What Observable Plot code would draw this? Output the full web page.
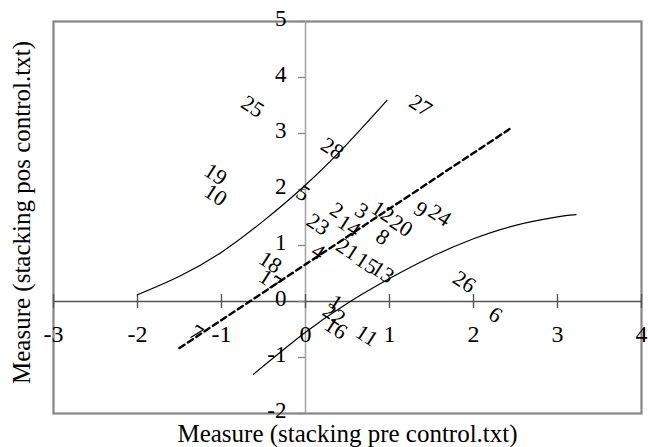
<!DOCTYPE html>
<html>
<head>
<meta charset="utf-8">
<script src="https://cdn.jsdelivr.net/npm/d3@7"></script>
<script src="https://cdn.jsdelivr.net/npm/@observablehq/plot@0.6"></script>
<style>
  html, body { margin: 0; padding: 0; background: #fff; }
  #chart svg { display: block; }
</style>
</head>
<body>
<div id="chart"></div>
<script>
// Axis ticks
const xTicks = [-3, -2, -1, 0, 1, 2, 3, 4];
const yTicks = [-2, -1, 0, 1, 2, 3, 4, 5];

// Item labels with their measures
const labels = ["25", "27", "28", "19", "10", "5", "2", "3", "12", "20", "9", "24", "23", "14",
                "8", "4", "21", "15", "13", "18", "17", "26", "6", "1", "22", "16", "11", "7"];
const preMeasure = [-0.63, 1.37, 0.32, -1.07, -1.07, -0.03, 0.37, 0.67, 0.92, 1.14, 1.37, 1.60, 0.15, 0.52,
                    0.92, 0.15, 0.50, 0.73, 0.92, -0.42, -0.42, 1.89, 2.26, 0.36, 0.34, 0.36, 0.73, -1.30];
const posMeasure = [3.48, 3.50, 2.73, 2.27, 1.90, 1.93, 1.63, 1.62, 1.60, 1.35, 1.64, 1.54, 1.38, 1.35,
                    1.15, 0.89, 0.93, 0.68, 0.52, 0.70, 0.38, 0.35, -0.24, -0.02, -0.23, -0.48, -0.61, -0.56];

// Upper control curve
const upperX = [-2.0, -1.5, -1.0, -0.5, 0.0, 0.5, 0.97];
const upperY = [0.12, 0.45, 0.88, 1.44, 2.08, 2.82, 3.59];
// Lower control curve
const lowerX = [-0.62, 0.0, 0.5, 1.0, 1.5, 2.0, 2.5, 3.0, 3.22];
const lowerY = [-1.30, -0.55, -0.03, 0.41, 0.80, 1.12, 1.36, 1.51, 1.55];
// Dashed trend line
const trendX = [-1.5, 2.43];
const trendY = [-0.83, 3.08];

const xTitle = "Measure (stacking pre control.txt)";
const yTitle = "Measure (stacking pos control.txt)";

const points = labels.map((t, i) => ({t, x: preMeasure[i], y: posMeasure[i]}));
const upper = upperX.map((x, i) => ({x, y: upperY[i]}));
const lower = lowerX.map((x, i) => ({x, y: lowerY[i]}));
const trend = trendX.map((x, i) => ({x, y: trendY[i]}));

const chart = Plot.plot({
  width: 648,
  height: 447,
  marginLeft: 53,
  marginRight: 7,
  marginTop: 21,
  marginBottom: 34,
  style: {fontFamily: "Liberation Serif", background: "#fff", color: "#000", overflow: "visible"},
  x: {domain: [-3, 4], axis: null},
  y: {domain: [-2, 5], axis: null},
  marks: [
    Plot.frame({stroke: "#858585", strokeWidth: 2.2}),
    Plot.ruleX([0], {stroke: "#a6a6a6", strokeWidth: 1.6}),
    Plot.ruleY([0], {stroke: "#555", strokeWidth: 1.6}),
    Plot.ruleX(xTicks, {x: d => d, y1: 0, y2: 0, insetTop: -7, insetBottom: -7, stroke: "#555", strokeWidth: 1.4}),
    Plot.ruleY(yTicks, {y: d => d, x1: 0, x2: 0, insetLeft: -7, insetRight: 0, stroke: "#888", strokeWidth: 1.4}),
    Plot.text(xTicks, {x: d => d, y: 0, dy: 33, text: d => String(d), fontSize: 24}),
    Plot.text(yTicks, {x: 0, y: d => d, dx: -19, dy: -3, textAnchor: "end", text: d => String(d), fontSize: 23}),
    Plot.line(upper, {x: "x", y: "y", curve: "natural", stroke: "#000", strokeWidth: 1.2}),
    Plot.line(lower, {x: "x", y: "y", curve: "natural", stroke: "#000", strokeWidth: 1.2}),
    Plot.line(trend, {x: "x", y: "y", stroke: "#000", strokeWidth: 2.4, strokeDasharray: "6,4"}),
    Plot.text(points, {x: "x", y: "y", text: "t", rotate: 33, fontSize: 22}),
    Plot.text([xTitle], {frameAnchor: "bottom", lineAnchor: "middle", textAnchor: "middle", dy: 20, text: d => d, fontSize: 25}),
    Plot.text([yTitle], {frameAnchor: "left", lineAnchor: "middle", textAnchor: "middle", dx: -32, dy: -5, rotate: -90, text: d => d, fontSize: 25})
  ]
});
document.getElementById("chart").appendChild(chart);
</script>
</body>
</html>
